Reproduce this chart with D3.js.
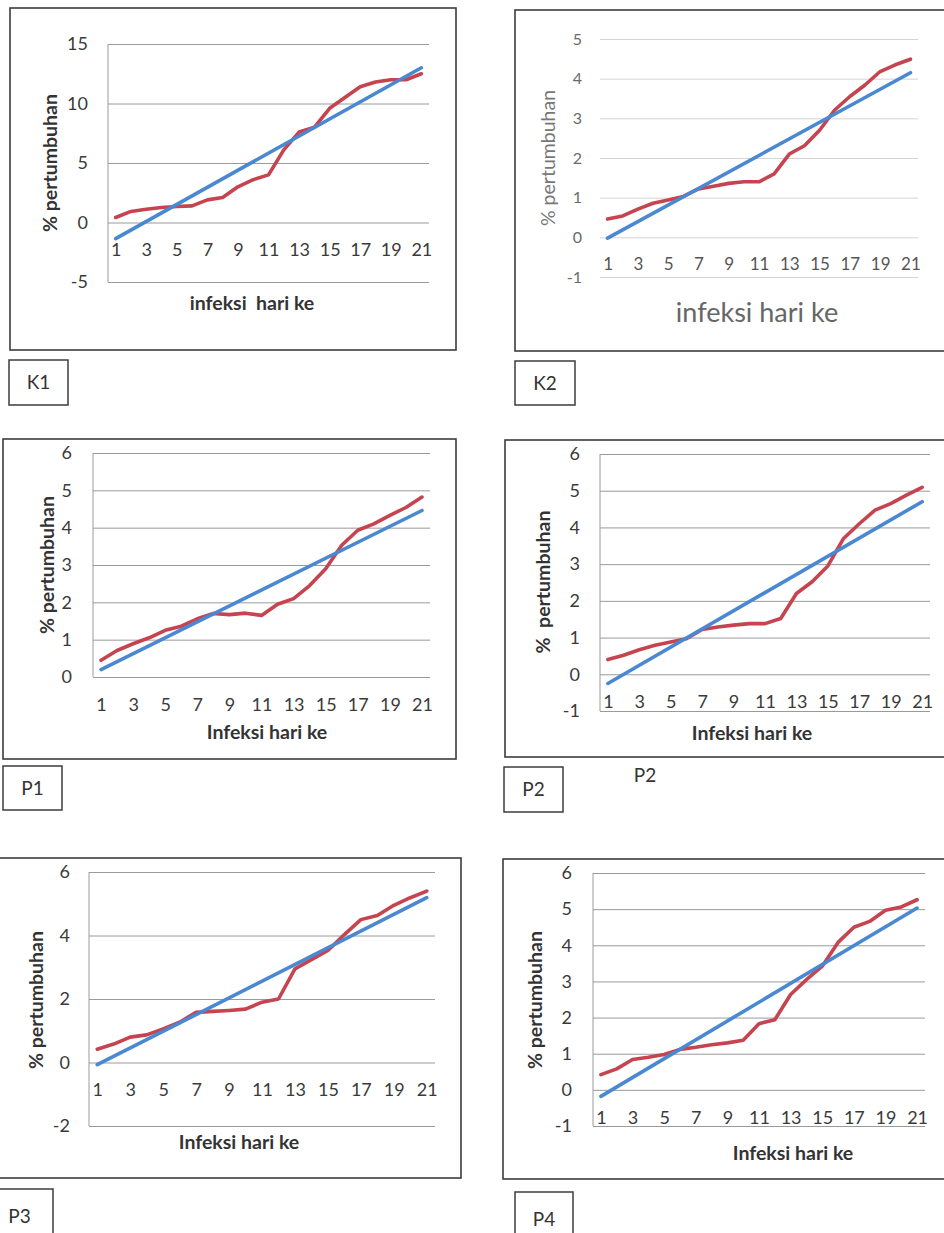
<!DOCTYPE html>
<html>
<head>
<meta charset="utf-8">
<script src="https://cdn.jsdelivr.net/npm/d3@7/dist/d3.min.js"></script>
<style>
  body { margin: 0; background: #fff; }
  svg { display: block; }
  text { font-family: Lato, 'Open Sans', sans-serif; }
</style>
</head>
<body>
<div id="chart"></div>
<script>
//********************************* Data *********************************

var days = [1, 2, 3, 4, 5, 6, 7, 8, 9, 10, 11, 12, 13, 14, 15, 16, 17, 18, 19, 20, 21];
var dayLabels = [1, 3, 5, 7, 9, 11, 13, 15, 17, 19, 21];

// % pertumbuhan per day (red line) and trend line at day 1 / day 21 (blue line)
var growthK1 = [0.42, 0.93, 1.12, 1.26, 1.35, 1.4, 1.9, 2.1, 3.0, 3.6, 4.0, 6.1, 7.6, 8.0, 9.6, 10.5, 11.4, 11.8, 12.0, 12.0, 12.5];
var trendK1 = [-1.35, 13.0];
var growthK2 = [0.46, 0.54, 0.71, 0.86, 0.94, 1.03, 1.22, 1.29, 1.36, 1.4, 1.4, 1.6, 2.1, 2.31, 2.7, 3.21, 3.55, 3.84, 4.18, 4.35, 4.49];
var trendK2 = [-0.02, 4.15];
var growthP1 = [0.45, 0.71, 0.89, 1.05, 1.25, 1.36, 1.56, 1.7, 1.67, 1.71, 1.65, 1.95, 2.1, 2.45, 2.9, 3.53, 3.93, 4.1, 4.33, 4.54, 4.82];
var trendP1 = [0.2, 4.46];
var growthP2 = [0.4, 0.52, 0.67, 0.79, 0.88, 0.97, 1.22, 1.29, 1.34, 1.38, 1.38, 1.52, 2.2, 2.52, 2.95, 3.7, 4.1, 4.47, 4.65, 4.88, 5.09];
var trendP2 = [-0.25, 4.7];
var growthP3 = [0.42, 0.58, 0.8, 0.87, 1.06, 1.27, 1.58, 1.61, 1.64, 1.68, 1.9, 2.0, 2.95, 3.24, 3.53, 4.03, 4.5, 4.63, 4.95, 5.19, 5.4];
var trendP3 = [-0.07, 5.19];
var growthP4 = [0.42, 0.58, 0.84, 0.9, 0.98, 1.12, 1.18, 1.25, 1.3, 1.37, 1.83, 1.94, 2.64, 3.05, 3.42, 4.08, 4.5, 4.66, 4.97, 5.06, 5.26];
var trendP4 = [-0.18, 5.03];

// y tick values
var ticksK1 = [-5, 0, 5, 10, 15];
var ticksK2 = [-1, 0, 1, 2, 3, 4, 5];
var ticksP1 = [0, 1, 2, 3, 4, 5, 6];
var ticksP2 = [-1, 0, 1, 2, 3, 4, 5, 6];
var ticksP3 = [-2, 0, 2, 4, 6];
var ticksP4 = [-1, 0, 1, 2, 3, 4, 5, 6];

var yTitle = '% pertumbuhan';
var red = '#c5444f';
var blue = '#4a88d2';

//********************************* Layout *********************************

var panels = [
  { name: 'K1', growth: growthK1, trend: trendK1, ticks: ticksK1, yTitle: yTitle, xTitle: 'infeksi  hari ke',
    box: [10, 8, 456, 350], plot: [108, 429, 44, 282], fs: 18, pad: 20,
    yt: [50, 163], xt: [252, 310], lab: [9, 360, 59, 45], style: 'bold' },
  { name: 'K2', growth: growthK2, trend: trendK2, ticks: ticksK2, yTitle: yTitle, xTitle: 'infeksi hari ke',
    box: [515, 10, 960, 351], plot: [600, 918, 39, 277], fs: 17, pad: 18,
    yt: [548, 158], xt: [757, 322], lab: [515, 361, 60, 44], style: 'light' },
  { name: 'P1', growth: growthP1, trend: trendP1, ticks: ticksP1, yTitle: yTitle, xTitle: 'Infeksi hari ke',
    box: [3, 439, 456, 759], plot: [93, 430, 453, 677], fs: 18, pad: 21,
    yt: [47, 565], xt: [267, 739], lab: [3, 766, 59, 44], style: 'bold' },
  { name: 'P2', growth: growthP2, trend: trendP2, ticks: ticksP2, yTitle: '%  pertumbuhan', xTitle: 'Infeksi hari ke',
    box: [505, 440, 960, 757], plot: [600, 930, 454, 711], fs: 18, pad: 20,
    yt: [543, 582], xt: [752, 740], lab: [504, 767, 59, 45], style: 'bold', extra: [645, 775] },
  { name: 'P3', growth: growthP3, trend: trendP3, ticks: ticksP3, yTitle: yTitle, xTitle: 'Infeksi hari ke',
    box: [-2, 858, 461, 1178], plot: [89, 435, 872, 1126], fs: 18, pad: 19,
    yt: [36, 1000], xt: [239, 1149], lab: [-2, 1189, 55, 60], style: 'bold' },
  { name: 'P4', growth: growthP4, trend: trendP4, ticks: ticksP4, yTitle: yTitle, xTitle: 'Infeksi hari ke',
    box: [503, 859, 960, 1179], plot: [593, 925, 873, 1126], fs: 18, pad: 21,
    yt: [535, 1000], xt: [793, 1160], lab: [515, 1192, 58, 60], style: 'bold' }
];

var svg = d3.select('#chart')
  .append('svg')
  .attr('width', 944)
  .attr('height', 1233);

svg.append('rect')
  .attr('width', 944)
  .attr('height', 1233)
  .attr('fill', '#fff');

panels.forEach(function(p) {
  var light = p.style === 'light';
  var g = svg.append('g');

  // outer frame
  g.append('rect')
    .attr('x', p.box[0]).attr('y', p.box[1])
    .attr('width', p.box[2] - p.box[0]).attr('height', p.box[3] - p.box[1])
    .attr('fill', 'none').attr('stroke', '#3c3c3c').attr('stroke-width', 1.6);

  var x_scale = d3.scalePoint()
    .domain(days)
    .range([p.plot[0], p.plot[1]])
    .padding(0.5);

  var y_scale = d3.scaleLinear()
    .domain(d3.extent(p.ticks))
    .range([p.plot[3], p.plot[2]]);

  // y axis + gridlines
  var y_axis = d3.axisLeft(y_scale)
    .tickValues(p.ticks)
    .tickSize(-(p.plot[1] - p.plot[0]))
    .tickPadding(p.pad)
    .tickFormat(function(d) { return String(d); });
  var ya = g.append('g')
    .attr('transform', 'translate(' + p.plot[0] + ',0)')
    .call(y_axis);
  ya.select('.domain').remove();
  ya.selectAll('line')
    .attr('stroke', light ? '#d4d4d4' : '#9a9a9a')
    .attr('stroke-width', 1);
  ya.selectAll('text')
    .attr('font-size', light ? 16 : p.fs)
    .attr('fill', light ? '#6a6a6a' : '#3a3a3a')
    .attr('font-family', 'Lato, sans-serif');

  if (!light) {
    g.append('line')
      .attr('x1', p.plot[0]).attr('x2', p.plot[0])
      .attr('y1', p.plot[2]).attr('y2', p.plot[3])
      .attr('stroke', '#9a9a9a').attr('stroke-width', 1);
  }

  // x axis labels next to the zero line
  var x_axis = d3.axisBottom(x_scale)
    .tickValues(dayLabels)
    .tickSize(0)
    .tickPadding(21);
  var xa = g.append('g')
    .attr('transform', 'translate(0,' + y_scale(0) + ')')
    .call(x_axis);
  xa.select('.domain').remove();
  xa.selectAll('text')
    .attr('font-size', p.fs)
    .attr('fill', light ? '#555' : '#3a3a3a')
    .attr('font-family', 'Lato, sans-serif');

  // growth line
  var line = d3.line()
    .x(function(d, i) { return x_scale(days[i]); })
    .y(function(d) { return y_scale(d); });
  g.append('path')
    .datum(p.growth)
    .attr('d', line)
    .attr('fill', 'none')
    .attr('stroke', red)
    .attr('stroke-width', 3.6)
    .attr('stroke-linejoin', 'round')
    .attr('stroke-linecap', 'round');

  // trend line
  var trendPts = [[days[0], p.trend[0]], [days[days.length - 1], p.trend[1]]];
  g.append('path')
    .datum(trendPts)
    .attr('d', d3.line()
      .x(function(d) { return x_scale(d[0]); })
      .y(function(d) { return y_scale(d[1]); }))
    .attr('fill', 'none')
    .attr('stroke', blue)
    .attr('stroke-width', 3.6)
    .attr('stroke-linecap', 'round');

  // axis titles
  g.append('text')
    .text(p.yTitle)
    .attr('transform', 'translate(' + p.yt[0] + ',' + p.yt[1] + ') rotate(-90)')
    .attr('text-anchor', 'middle')
    .attr('dy', '0.35em')
    .attr('font-size', 19.5)
    .attr('font-weight', light ? 'normal' : 'bold')
    .attr('fill', light ? '#777' : '#333')
    .style('white-space', 'pre');

  g.append('text')
    .text(p.xTitle)
    .attr('x', p.xt[0])
    .attr('y', p.xt[1])
    .attr('text-anchor', 'middle')
    .attr('font-size', light ? 27 : 19.5)
    .attr('font-weight', light ? 'normal' : 'bold')
    .attr('fill', light ? '#666' : '#333')
    .style('white-space', 'pre');

  // panel name box
  g.append('rect')
    .attr('x', p.lab[0]).attr('y', p.lab[1])
    .attr('width', p.lab[2]).attr('height', p.lab[3])
    .attr('fill', 'none').attr('stroke', '#3c3c3c').attr('stroke-width', 1.5);
  g.append('text')
    .text(p.name)
    .attr('x', p.lab[0] + p.lab[2] / 2 + (p.name === 'P3' ? -6 : 0))
    .attr('y', p.name === 'P3' || p.name === 'P4' ? p.lab[1] + 27 : p.lab[1] + p.lab[3] / 2)
    .attr('dy', '0.35em')
    .attr('text-anchor', 'middle')
    .attr('font-size', 19)
    .attr('fill', '#333');

  if (p.extra) {
    g.append('text')
      .text(p.name)
      .attr('x', p.extra[0])
      .attr('y', p.extra[1])
      .attr('text-anchor', 'middle')
      .attr('dy', '0.35em')
      .attr('font-size', 19)
      .attr('fill', '#333');
  }
});
</script>
</body>
</html>
